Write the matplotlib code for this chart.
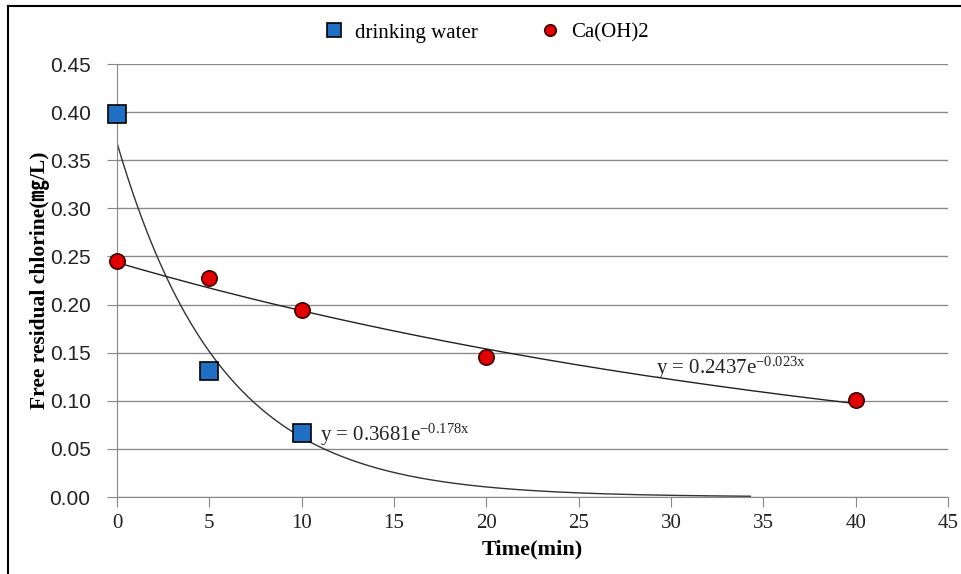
import numpy as np
import matplotlib
matplotlib.use('Agg')
from matplotlib import pyplot as plt
from matplotlib import rcParams
from matplotlib.lines import Line2D

rcParams['font.family'] = ['Liberation Serif', 'Noto Sans CJK KR', 'DejaVu Sans']
rcParams['mathtext.fontset'] = 'custom'
rcParams['mathtext.rm'] = 'Liberation Serif'
rcParams['mathtext.it'] = 'Liberation Serif'

# data
t_water = [0, 5, 10]
c_water = [0.398, 0.131, 0.067]
t_ca = [0, 5, 10, 20, 40]
c_ca = [0.245, 0.228, 0.194, 0.145, 0.101]

# exponential trendlines (from the equations shown)
a_water, k_water, tmax_water = 0.3681, 0.178, 34.3
a_ca, k_ca, tmax_ca = 0.2437, 0.023, 40

fig = plt.figure(figsize=(9.62, 5.74), dpi=100)
ax = fig.add_axes([0.1216, 0.1341, 0.9854 - 0.1216, 0.8885 - 0.1341])

# outer frame (left and top edges visible)
fig.add_artist(Line2D([0.0085, 0.0085], [0.0, 0.99], transform=fig.transFigure, color='black', lw=1.5))
fig.add_artist(Line2D([0.0085, 1.0], [0.99, 0.99], transform=fig.transFigure, color='black', lw=1.5))

tt = np.linspace(0, tmax_water, 300)
ax.plot(tt, a_water * np.exp(-k_water * tt), color='#333333', lw=1, zorder=2)
tt = np.linspace(0, tmax_ca, 300)
ax.plot(tt, a_ca * np.exp(-k_ca * tt), color='#222222', lw=1, zorder=2)

ax.plot(t_water, c_water, 's', ms=13, mfc='#1f6fc5', mec='black', mew=1.2,
        ls='none', label='drinking water', zorder=4, clip_on=False)
ax.plot(t_ca, c_ca, 'o', ms=11, mfc='#e30000', mec='#3a0000', mew=1.2,
        ls='none', label='Ca(OH)2', zorder=4, clip_on=False)

ax.text(11.0, 0.058, r'y = 0.3681e$^{-0.178x}$', fontsize=15, color='#222222')
ax.text(29.2, 0.128, r'y = 0.2437e$^{-0.023x}$', fontsize=15, color='#222222')

ax.set_xlim(0, 45)
ax.set_ylim(0, 0.45)
ax.set_xticks(np.arange(0, 46, 5))
ax.set_yticks(np.arange(0, 0.451, 0.05))
ax.set_yticklabels(['%.2f' % v for v in np.arange(0, 0.451, 0.05)],
                   family=['Liberation Sans', 'DejaVu Sans'])
ax.tick_params(axis='both', direction='out', length=7, color='#888888',
               labelcolor='#222222')
ax.tick_params(axis='y', labelsize=15, pad=12)
ax.tick_params(axis='x', labelsize=15, pad=5)
ax.grid(True, axis='y', color='#8c8c8c', lw=1)
ax.set_axisbelow(True)
for s in ['top', 'right']:
    ax.spines[s].set_visible(False)
for s in ['left', 'bottom']:
    ax.spines[s].set_color('#888888')

ax.set_xlabel('Time(min)', fontsize=16, fontweight='bold', labelpad=5)
ax.set_ylabel('Free residual chlorine(㎎/L)', fontsize=15.5, fontweight='bold', labelpad=0)

leg = fig.legend(handles=ax.get_lines()[2:], loc='center', bbox_to_anchor=(0.5, 1 - 33 / 574),
                 ncol=2, frameon=False, fontsize=15, handletextpad=0.0, columnspacing=2.5,
                 markerscale=0.75)

fig.savefig('out.png', dpi=100)
